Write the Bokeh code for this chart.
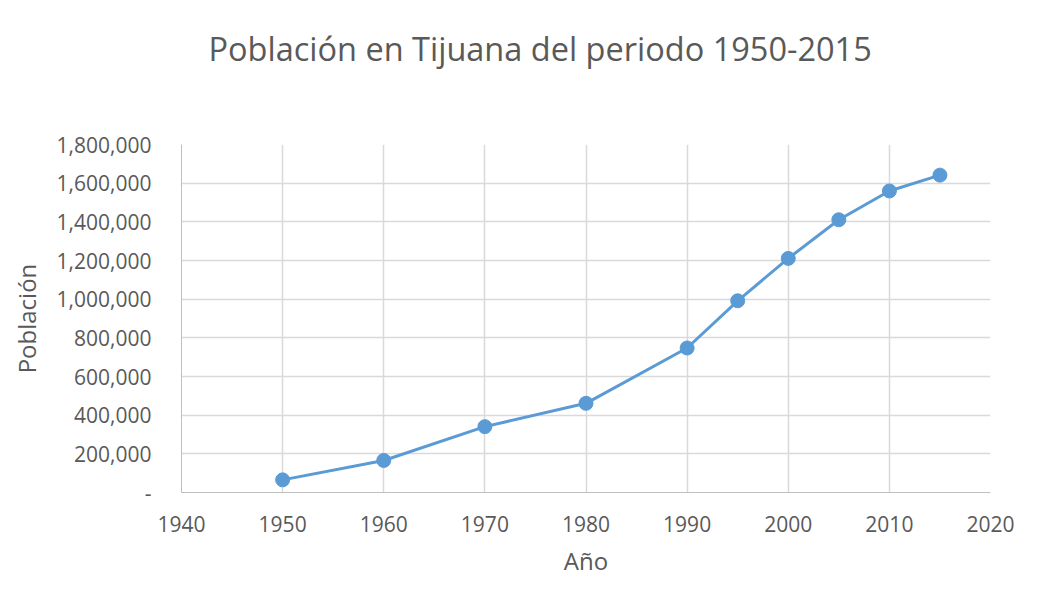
from bokeh.plotting import figure
from bokeh.models import Range1d, FixedTicker, CustomJSTickFormatter, ColumnDataSource, Title
from bokeh.embed import file_html
from bokeh.resources import INLINE

years = [1950, 1960, 1970, 1980, 1990, 1995, 2000, 2005, 2010, 2015]
population = [65364, 165690, 340583, 461257, 747381, 991592, 1210820, 1410687, 1559683, 1641570]
x_ticks = [1940, 1950, 1960, 1970, 1980, 1990, 2000, 2010, 2020]
y_ticks = [0, 200000, 400000, 600000, 800000, 1000000, 1200000, 1400000, 1600000, 1800000]

FONT = "Open Sans"
GRAY = "#595959"
BLUE = "#5b9bd5"

p = figure(width=1045, height=600, output_backend="svg", toolbar_location=None,
           x_range=Range1d(1940, 2020), y_range=Range1d(0, 1800000),
           min_border_left=181, min_border_right=55, min_border_top=144, min_border_bottom=108)

# spacer between title and plot frame
p.add_layout(Title(text=" ", text_font_size="10px", standoff=61), "above")

p.title.text = "Población en Tijuana del periodo 1950-2015"
p.title.align = "left"
p.title.text_font = FONT
p.title.text_font_size = "32.5px"
p.title.text_font_style = "normal"
p.title.text_color = GRAY
p.title.offset = 27
p.title.standoff = 0

p.outline_line_color = None
p.background_fill_color = "white"
p.border_fill_color = "white"

p.xaxis.ticker = FixedTicker(ticks=x_ticks)
p.yaxis.ticker = FixedTicker(ticks=y_ticks)
p.yaxis.formatter = CustomJSTickFormatter(code="return tick == 0 ? '-' : tick.toLocaleString('en-US');")
p.xaxis.formatter = CustomJSTickFormatter(code="return String(tick);")

for ax in (p.xaxis, p.yaxis):
    ax.axis_line_color = "#bfbfbf"
    ax.axis_line_width = 1
    ax.major_tick_line_color = None
    ax.minor_tick_line_color = None
    ax.major_label_text_font = FONT
    ax.major_label_text_font_size = "21px"
    ax.major_label_text_color = GRAY
    ax.axis_label_text_font = FONT
    ax.axis_label_text_font_size = "24px"
    ax.axis_label_text_font_style = "normal"
    ax.axis_label_text_color = GRAY

p.xaxis.major_label_standoff = 17
p.yaxis.major_label_standoff = 24
p.xaxis.axis_label_standoff = 9
p.yaxis.axis_label_standoff = 11
p.xaxis.axis_label = "Año"
p.yaxis.axis_label = "Población"

p.xgrid.grid_line_color = "#d9d9d9"
p.ygrid.grid_line_color = "#d9d9d9"
p.xgrid.grid_line_width = 1.5
p.ygrid.grid_line_width = 1.5

src = ColumnDataSource(dict(x=years, y=population))
p.line("x", "y", source=src, line_color=BLUE, line_width=3)
p.scatter("x", "y", source=src, size=14, fill_color=BLUE, line_color=BLUE)

open("out.html", "w").write(file_html(p, INLINE))
